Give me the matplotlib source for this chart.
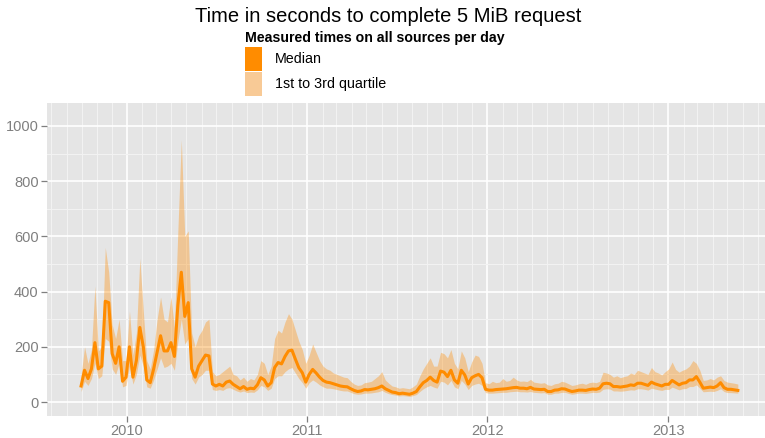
"""Time to complete a 5 MiB request: daily median with 1st-3rd quartile ribbon."""

import matplotlib

matplotlib.use("Agg")
import matplotlib.dates as mdates
import matplotlib.pyplot as plt
import pandas as pd
from matplotlib.patches import Patch

plt.rcParams["font.family"] = ["Liberation Sans", "DejaVu Sans"]

# weekly samples, starting 2009-09-30
start_date = "2009-09-30"
median = [
    58, 115, 85, 120, 215, 120, 130, 365, 360, 175, 140, 200, 75, 90, 200, 90,
    150, 270, 200, 80, 70, 120, 180, 240, 185, 185, 215, 165, 350, 470, 310, 360,
    120, 90, 130, 150, 170, 167, 65, 58, 64, 58, 72, 76, 64, 56, 48, 56,
    46, 50, 48, 62, 88, 80, 58, 70, 125, 143, 138, 165, 185, 188, 155, 124,
    106, 72, 100, 118, 105, 90, 78, 72, 70, 66, 62, 58, 56, 55, 48, 42,
    38, 40, 45, 44, 46, 48, 52, 58, 48, 42, 36, 34, 30, 32, 30, 28,
    32, 38, 55, 70, 78, 90, 78, 72, 112, 108, 92, 115, 80, 68, 115, 98,
    65, 88, 95, 100, 88, 46, 43, 43, 45, 46, 47, 48, 50, 52, 53, 50,
    50, 48, 53, 47, 46, 45, 46, 38, 38, 43, 44, 48, 47, 42, 38, 40,
    43, 43, 42, 45, 47, 46, 50, 66, 68, 66, 56, 56, 54, 56, 58, 62,
    60, 68, 68, 64, 60, 72, 66, 62, 58, 64, 64, 78, 70, 62, 68, 70,
    80, 80, 92, 72, 50, 52, 54, 52, 58, 70, 52, 46, 46, 44, 42,
]
q1 = [
    38, 75, 60, 85, 140, 85, 95, 230, 220, 120, 100, 140, 55, 60, 130, 65,
    100, 170, 130, 55, 50, 80, 120, 160, 125, 130, 140, 115, 220, 300, 210, 230,
    85, 65, 90, 100, 115, 115, 45, 42, 45, 42, 50, 52, 46, 40, 36, 40,
    34, 36, 35, 44, 60, 55, 42, 50, 85, 95, 95, 110, 120, 125, 105, 85,
    70, 50, 70, 80, 72, 62, 55, 50, 50, 48, 45, 42, 40, 40, 35, 30,
    28, 29, 32, 32, 33, 35, 37, 42, 35, 30, 27, 25, 22, 23, 22, 20,
    23, 27, 38, 48, 55, 60, 54, 50, 75, 72, 62, 78, 55, 48, 78, 65,
    45, 60, 65, 68, 60, 34, 32, 32, 33, 34, 35, 35, 37, 38, 39, 37,
    37, 36, 38, 35, 34, 33, 34, 28, 28, 32, 32, 35, 35, 31, 28, 30,
    32, 32, 31, 33, 35, 34, 36, 46, 48, 47, 40, 40, 39, 40, 42, 44,
    43, 48, 48, 46, 43, 50, 47, 44, 42, 46, 45, 54, 49, 44, 48, 49,
    56, 56, 62, 50, 37, 38, 39, 38, 42, 48, 38, 34, 34, 33, 32,
]
q3 = [
    95, 200, 140, 190, 420, 185, 200, 560, 470, 280, 230, 300, 150, 150, 330, 170,
    250, 520, 330, 150, 120, 190, 300, 380, 300, 290, 380, 270, 620, 950, 600, 620,
    250, 200, 240, 260, 290, 300, 110, 95, 100, 110, 120, 130, 100, 95, 80, 90,
    75, 85, 80, 100, 150, 140, 100, 130, 230, 260, 250, 290, 320, 300, 260, 220,
    190, 140, 170, 210, 180, 150, 130, 120, 115, 105, 100, 95, 90, 88, 75, 65,
    60, 62, 70, 72, 75, 85, 95, 110, 80, 68, 58, 55, 50, 52, 50, 48,
    55, 65, 95, 120, 140, 160, 130, 130, 180, 175, 160, 190, 140, 120, 185, 160,
    110, 145, 170, 165, 140, 70, 66, 75, 70, 72, 85, 75, 78, 90, 80, 75,
    76, 74, 82, 72, 70, 68, 70, 62, 60, 66, 68, 75, 72, 66, 60, 62,
    66, 68, 64, 70, 72, 70, 75, 108, 105, 100, 90, 95, 88, 92, 95, 105,
    100, 115, 110, 105, 100, 125, 110, 105, 98, 110, 120, 145, 118, 108, 115, 120,
    130, 150, 140, 115, 78, 80, 85, 80, 90, 95, 78, 72, 70, 68, 65,
]
y_ticks = [0, 200, 400, 600, 800, 1000]
y_minor = [100, 300, 500, 700, 900]

dates = pd.date_range(start_date, periods=len(median), freq="7D")

ORANGE = "#FF8C00"
PANEL = "#E5E5E5"
GREY50 = "#7F7F7F"

fig = plt.figure(figsize=(7.65, 4.38), dpi=100)
ax = fig.add_axes([47 / 765, 22 / 438, 718 / 765, 313 / 438])
ax.set_facecolor(PANEL)
for side in ax.spines.values():
    side.set_visible(False)

ax.fill_between(dates, q1, q3, color=ORANGE, alpha=0.35, linewidth=0, zorder=3)
ax.plot(dates, median, color=ORANGE, linewidth=2.2, zorder=4)

ax.set_ylim(-50.7, 1083)
ax.set_xlim(pd.Timestamp("2009-07-23"), pd.Timestamp("2013-07-16"))

ax.set_yticks(y_ticks)
ax.set_yticks(y_minor, minor=True)
ax.xaxis.set_major_locator(mdates.YearLocator())
ax.xaxis.set_major_formatter(mdates.DateFormatter("%Y"))
ax.xaxis.set_minor_locator(mdates.MonthLocator())

ax.grid(which="minor", color="#F2F2F2", linewidth=0.8, zorder=1)
ax.grid(which="major", color="white", linewidth=1.2, zorder=2)
ax.set_axisbelow(True)

ax.tick_params(which="major", length=4, width=0.9, color=GREY50,
               labelcolor=GREY50, labelsize=10.5, pad=2)
ax.tick_params(which="minor", length=0)

fig.text(0.508, 1 - 16 / 438, "Time in seconds to complete 5 MiB request",
         ha="center", va="center", fontsize=14.5)

handles = [
    Patch(facecolor=ORANGE, edgecolor="none"),
    Patch(facecolor="#F8CA96", edgecolor="none"),
]
leg = fig.legend(
    handles, ["Median", "1st to 3rd quartile"],
    title="Measured times on all sources per day",
    loc="upper left", bbox_to_anchor=(241 / 765, 1 - 27 / 438),
    frameon=True, fancybox=False, edgecolor="none", facecolor="white", framealpha=1,
    fontsize=10.3, title_fontproperties={"weight": "bold", "size": 10.2},
    handlelength=1.2, handleheight=2.15, handletextpad=0.9,
    labelspacing=0.12, borderpad=0.3, borderaxespad=0, alignment="left",
)
leg.set_zorder(10)

fig.savefig("out.png", dpi=100)
